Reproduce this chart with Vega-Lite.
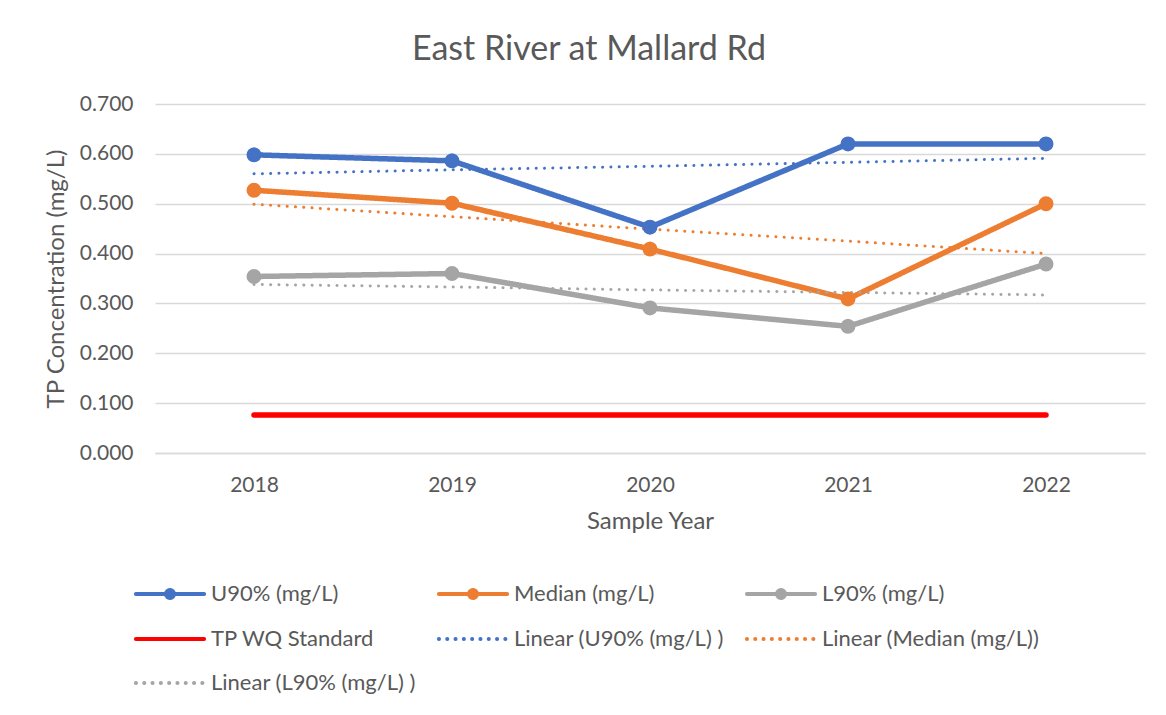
{
  "$schema": "https://vega.github.io/schema/vega-lite/v6.json",
  "width": 990,
  "height": 349,
  "autosize": "none",
  "padding": {"left": 155, "top": 104, "right": 21, "bottom": 262},
  "background": "white",
  "config": {"view": {"stroke": null}, "font": "Lato"},
  "title": {
    "text": "East River at Mallard Rd",
    "fontSize": 34,
    "font": "Lato",
    "fontWeight": "normal",
    "color": "#595959",
    "anchor": "middle",
    "dx": -61,
    "offset": 26
  },
  "data": {
    "values": [
      {"year": "2018", "series": "U90% (mg/L)", "value": 0.598},
      {"year": "2019", "series": "U90% (mg/L)", "value": 0.586},
      {"year": "2020", "series": "U90% (mg/L)", "value": 0.453},
      {"year": "2021", "series": "U90% (mg/L)", "value": 0.620},
      {"year": "2022", "series": "U90% (mg/L)", "value": 0.620},
      {"year": "2018", "series": "Median (mg/L)", "value": 0.527},
      {"year": "2019", "series": "Median (mg/L)", "value": 0.501},
      {"year": "2020", "series": "Median (mg/L)", "value": 0.409},
      {"year": "2021", "series": "Median (mg/L)", "value": 0.309},
      {"year": "2022", "series": "Median (mg/L)", "value": 0.500},
      {"year": "2018", "series": "L90% (mg/L)", "value": 0.354},
      {"year": "2019", "series": "L90% (mg/L)", "value": 0.360},
      {"year": "2020", "series": "L90% (mg/L)", "value": 0.291},
      {"year": "2021", "series": "L90% (mg/L)", "value": 0.254},
      {"year": "2022", "series": "L90% (mg/L)", "value": 0.379},
      {"year": "2018", "series": "TP WQ Standard", "value": 0.076},
      {"year": "2019", "series": "TP WQ Standard", "value": 0.076},
      {"year": "2020", "series": "TP WQ Standard", "value": 0.076},
      {"year": "2021", "series": "TP WQ Standard", "value": 0.076},
      {"year": "2022", "series": "TP WQ Standard", "value": 0.076},
      {"year": "2018", "series": "Linear (U90% (mg/L)  )", "value": 0.560},
      {"year": "2019", "series": "Linear (U90% (mg/L)  )", "value": 0.568},
      {"year": "2020", "series": "Linear (U90% (mg/L)  )", "value": 0.575},
      {"year": "2021", "series": "Linear (U90% (mg/L)  )", "value": 0.583},
      {"year": "2022", "series": "Linear (U90% (mg/L)  )", "value": 0.591},
      {"year": "2018", "series": "Linear (Median (mg/L))", "value": 0.499},
      {"year": "2019", "series": "Linear (Median (mg/L))", "value": 0.474},
      {"year": "2020", "series": "Linear (Median (mg/L))", "value": 0.449},
      {"year": "2021", "series": "Linear (Median (mg/L))", "value": 0.425},
      {"year": "2022", "series": "Linear (Median (mg/L))", "value": 0.400},
      {"year": "2018", "series": "Linear (L90% (mg/L)  )", "value": 0.338},
      {"year": "2019", "series": "Linear (L90% (mg/L)  )", "value": 0.333},
      {"year": "2020", "series": "Linear (L90% (mg/L)  )", "value": 0.327},
      {"year": "2021", "series": "Linear (L90% (mg/L)  )", "value": 0.322},
      {"year": "2022", "series": "Linear (L90% (mg/L)  )", "value": 0.317}
    ]
  },
  "encoding": {
    "x": {
      "field": "year",
      "type": "ordinal",
      "scale": {"paddingInner": 0, "paddingOuter": 0.5},
      "axis": {
        "title": "Sample Year",
        "titleFontSize": 24,
        "titleColor": "#595959",
        "titleFontWeight": "normal",
        "titleFont": "Lato",
        "labelFontSize": 21,
        "labelFont": "Lato",
        "labelColor": "#595959",
        "labelAngle": 0,
        "ticks": false,
        "domainColor": "#d9d9d9",
        "domainWidth": 1.5,
        "labelPadding": 21,
        "titlePadding": 14
      }
    },
    "y": {
      "field": "value",
      "type": "quantitative",
      "scale": {"domain": [0, 0.7]},
      "axis": {
        "title": "TP Concentration (mg/L)",
        "titleFontSize": 24,
        "titleColor": "#595959",
        "titleFontWeight": "normal",
        "titleFont": "Lato",
        "labelFontSize": 21,
        "labelFont": "Lato",
        "labelColor": "#595959",
        "format": ".3f",
        "values": [0, 0.1, 0.2, 0.3, 0.4, 0.5, 0.6, 0.7],
        "ticks": false,
        "domain": false,
        "gridColor": "#d9d9d9",
        "gridWidth": 1.5,
        "labelPadding": 22,
        "titlePadding": 11
      }
    },
    "color": {
      "field": "series",
      "type": "nominal",
      "scale": {
        "domain": ["U90% (mg/L)", "Median (mg/L)", "L90% (mg/L)", "TP WQ Standard", "Linear (U90% (mg/L)  )", "Linear (Median (mg/L))", "Linear (L90% (mg/L)  )"],
        "range": ["#4472C4", "#ED7D31", "#A5A5A5", "#FF0000", "#4472C4", "#ED7D31", "#A5A5A5"]
      },
      "legend": {
        "orient": "none",
        "legendX": -20,
        "legendY": 477,
        "columns": 3,
        "direction": "horizontal",
        "title": null,
        "labelFontSize": 22,
        "labelFont": "Lato",
        "labelColor": "#595959",
        "labelLimit": 400,
        "symbolSize": 484,
        "symbolStrokeWidth": 4,
        "symbolOffset": 22,
        "labelOffset": 28,
        "columnPadding": 8,
        "rowPadding": 20,
        "encode": {
          "symbols": {
            "update": {
              "strokeCap": {"value": "round"},
              "strokeWidth": {"value": 4},
              "opacity": {"value": 1}
            }
          }
        }
      }
    }
  },
  "layer": [
    {
      "transform": [{"filter": {"field": "series", "oneOf": ["U90% (mg/L)", "Median (mg/L)", "L90% (mg/L)", "TP WQ Standard"]}}],
      "mark": {"type": "line", "strokeWidth": 5.5, "strokeCap": "round", "strokeJoin": "round"},
      "encoding": {
        "strokeDash": {
          "field": "series",
          "type": "nominal",
          "scale": {
            "domain": ["U90% (mg/L)", "Median (mg/L)", "L90% (mg/L)", "TP WQ Standard", "Linear (U90% (mg/L)  )", "Linear (Median (mg/L))", "Linear (L90% (mg/L)  )"],
            "range": [[1, 0], [1, 0], [1, 0], [1, 0], [0.1, 8.2], [0.1, 8.2], [0.1, 8.2]]
          }
        }
      }
    },
    {
      "transform": [{"filter": {"field": "series", "oneOf": ["Linear (U90% (mg/L)  )", "Linear (Median (mg/L))", "Linear (L90% (mg/L)  )"]}}],
      "mark": {"type": "line", "strokeWidth": 3, "strokeCap": "round"},
      "encoding": {
        "strokeDash": {"field": "series", "type": "nominal"}
      }
    },
    {
      "transform": [{"filter": {"field": "series", "oneOf": ["U90% (mg/L)", "Median (mg/L)", "L90% (mg/L)"]}}],
      "mark": {"type": "point", "filled": true, "size": 1736, "strokeWidth": 0, "opacity": 1},
      "encoding": {
        "shape": {
          "field": "series",
          "type": "nominal",
          "scale": {
            "domain": ["U90% (mg/L)", "Median (mg/L)", "L90% (mg/L)", "TP WQ Standard", "Linear (U90% (mg/L)  )", "Linear (Median (mg/L))", "Linear (L90% (mg/L)  )"],
            "range": [
              "M-3.1,0H3.1M0.36,0L0.3326,0.1378L0.2546,0.2546L0.1378,0.3326L0,0.36L-0.1378,0.3326L-0.2546,0.2546L-0.3326,0.1378L-0.36,0L-0.3326,-0.1378L-0.2546,-0.2546L-0.1378,-0.3326L0,-0.36L0.1378,-0.3326L0.2546,-0.2546L0.3326,-0.1378Z",
              "M-3.1,0H3.1M0.36,0L0.3326,0.1378L0.2546,0.2546L0.1378,0.3326L0,0.36L-0.1378,0.3326L-0.2546,0.2546L-0.3326,0.1378L-0.36,0L-0.3326,-0.1378L-0.2546,-0.2546L-0.1378,-0.3326L0,-0.36L0.1378,-0.3326L0.2546,-0.2546L0.3326,-0.1378Z",
              "M-3.1,0H3.1M0.36,0L0.3326,0.1378L0.2546,0.2546L0.1378,0.3326L0,0.36L-0.1378,0.3326L-0.2546,0.2546L-0.3326,0.1378L-0.36,0L-0.3326,-0.1378L-0.2546,-0.2546L-0.1378,-0.3326L0,-0.36L0.1378,-0.3326L0.2546,-0.2546L0.3326,-0.1378Z",
              "M-3.1,0H3.1",
              "M-3.1,0H3.1",
              "M-3.1,0H3.1",
              "M-3.1,0H3.1"
            ]
          }
        }
      }
    }
  ]
}
